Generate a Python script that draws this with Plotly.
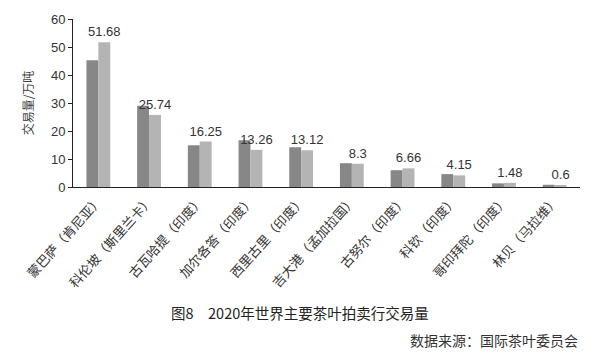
import plotly.graph_objects as go

categories = ["蒙巴萨（肯尼亚）", "科伦坡（斯里兰卡）", "古瓦哈提（印度）", "加尔各答（印度）",
              "西里古里（印度）", "吉大港（孟加拉国）", "古努尔（印度）", "科钦（印度）",
              "哥印拜陀（印度）", "林贝（马拉维）"]
values_2019 = [45.3, 29.0, 14.9, 16.7, 14.2, 8.5, 6.0, 4.6, 1.3, 0.8]
values_2020 = [51.68, 25.74, 16.25, 13.26, 13.12, 8.3, 6.66, 4.15, 1.48, 0.6]
y_ticks = [0, 10, 20, 30, 40, 50, 60]

font_main = "Noto Sans CJK SC, Arial, sans-serif"

fig = go.Figure()
fig.add_trace(go.Bar(x=categories, y=values_2019, name="2019",
                     marker=dict(color="#878787", line=dict(width=0))))
fig.add_trace(go.Bar(x=categories, y=values_2020, name="2020",
                     marker=dict(color="#b4b4b4", line=dict(width=0)),
                     text=[f"{v:g}" for v in values_2020], textposition="outside",
                     constraintext="none",
                     textfont=dict(size=13, color="#333333", family="Liberation Sans, Arial"),
                     cliponaxis=False))

# page body has an 8px default margin, so the figure is drawn at (8, 8)
fig.update_layout(
    width=595, height=352,
    margin=dict(l=65, r=23, t=11, b=173, autoexpand=False),
    paper_bgcolor="white", plot_bgcolor="white",
    barmode="group", bargap=0.53, bargroupgap=0,
    showlegend=False,
    uniformtext=dict(mode=False),
    font=dict(family=font_main, color="#333333"),
    xaxis=dict(showline=True, linecolor="#222222", linewidth=1, ticks="",
               tickangle=-48, automargin=False,
               tickfont=dict(size=13, color="#333333", family=font_main),
               showgrid=False),
    yaxis=dict(range=[0, 60], tickvals=y_ticks, showline=True, linecolor="#222222",
               linewidth=1, ticks="outside", ticklen=4, tickcolor="#222222",
               showgrid=False, zeroline=False, automargin=False,
               tickfont=dict(size=13, color="#333333", family="Liberation Sans, Arial"),
               title=dict(text="交易量/万吨", font=dict(size=12, color="#444444", family=font_main),
                          standoff=14)),
    annotations=[
        dict(text="图8　2020年世界主要茶叶拍卖行交易量", xref="paper", yref="paper",
             x=(300 - 73) / 507, y=-(312 - 187) / 168, xanchor="center", yanchor="middle",
             showarrow=False, font=dict(size=14.5, color="#222222", family=font_main)),
        dict(text="数据来源：国际茶叶委员会", xref="paper", yref="paper",
             x=1.0, y=-(340 - 187) / 168, xanchor="right", yanchor="middle",
             showarrow=False, font=dict(size=14, color="#333333", family=font_main)),
    ],
)

fig.write_html("out.html")
